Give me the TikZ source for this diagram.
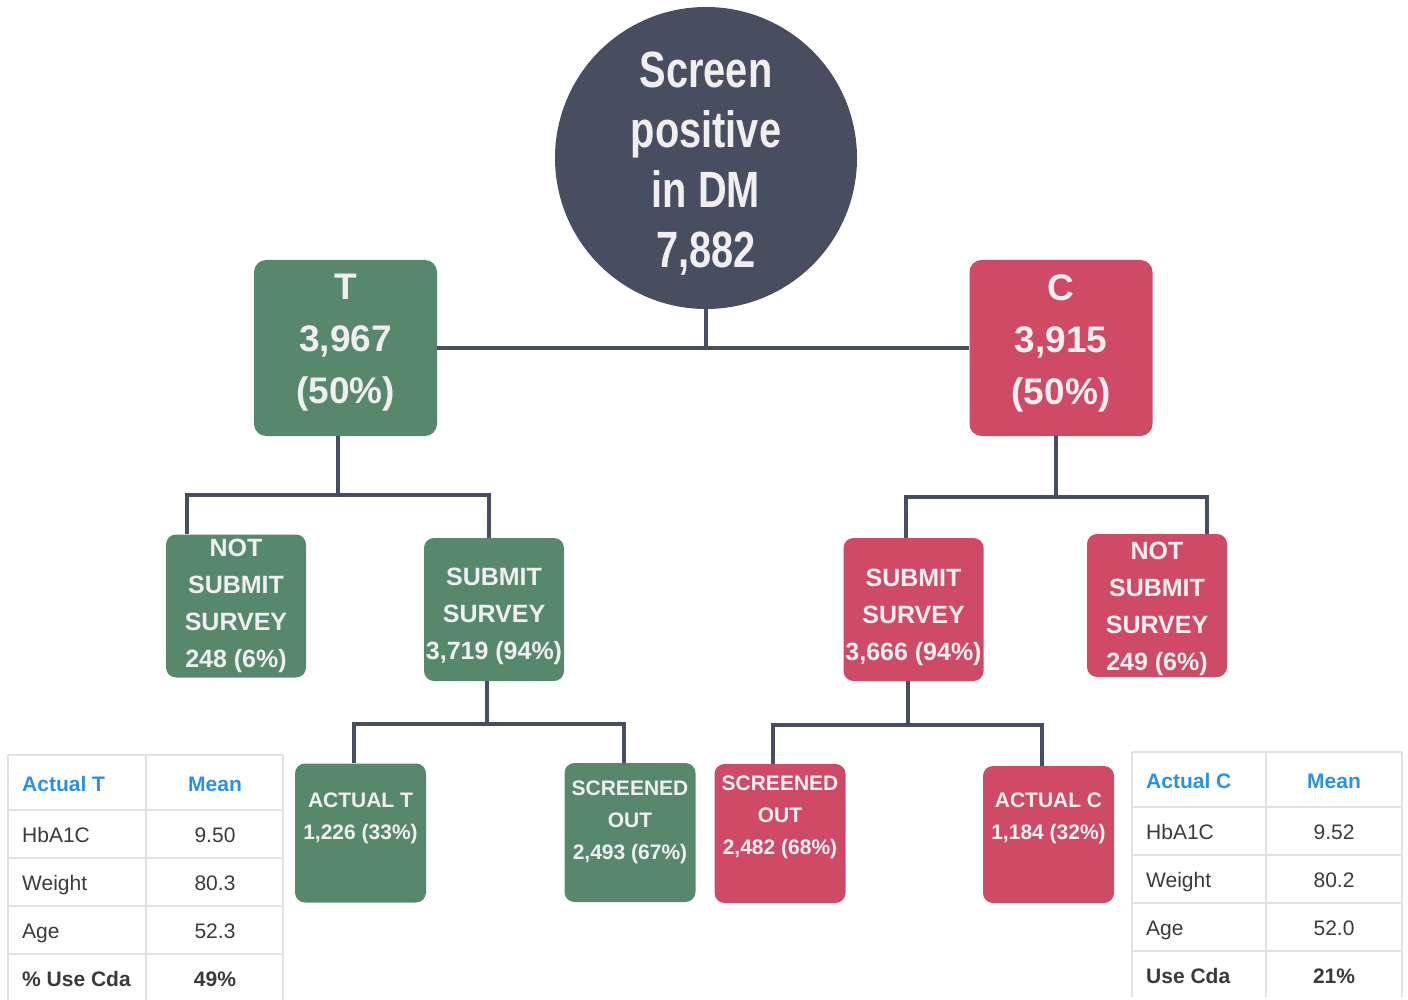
\documentclass[tikz,border=0pt]{standalone}
\usepackage{fontspec}
\setmainfont{Liberation Sans}
\newfontfamily\condfont[FakeStretch=0.78]{Liberation Sans}
\usepackage{tikz}
\usetikzlibrary{positioning}
\usepackage{xcolor}

\definecolor{navy}{HTML}{464E60}
\definecolor{tgreen}{HTML}{58886C}
\definecolor{cred}{HTML}{CF4A66}
\definecolor{hblue}{HTML}{2B90E8}
\definecolor{rulegray}{HTML}{E2E2E2}
\definecolor{ink}{HTML}{3A3A3A}
\definecolor{paper}{HTML}{EFEFEF}

\begin{document}
\begin{tikzpicture}[
        x=1pt, y=-1pt,
        link/.style={draw=navy, line width=4pt},
        root/.style={circle, fill=navy, minimum size=302pt, inner sep=0pt},
        roottext/.style={text=paper, align=center, font=\condfont\bfseries\fontsize{51}{60}\selectfont},
        arm/.style={rounded corners=12pt, minimum width=183pt, minimum height=176pt, inner sep=0pt},
        armtext/.style={text=paper, align=center, font=\bfseries\fontsize{37}{52}\selectfont},
        survey/.style={rounded corners=10pt, minimum width=140pt, minimum height=143pt, inner sep=0pt},
        surveytext/.style={text=paper, align=center, font=\bfseries\fontsize{25}{37}\selectfont},
        result/.style={rounded corners=10pt, minimum width=131pt, minimum height=139pt, inner sep=0pt},
        resulttext/.style={text=paper, align=center, font=\bfseries\fontsize{21}{32}\selectfont},
        cell/.style={text=ink, inner sep=0pt, text height=21pt, text depth=4pt,
            font=\fontsize{21}{24}\selectfont},
        head/.style={cell, text=hblue, font=\bfseries\fontsize{21}{24}\selectfont},
        boldcell/.style={cell, font=\bfseries\fontsize{21}{24}\selectfont},
        rule/.style={draw=rulegray, line width=1.5pt}
    ]
    \useasboundingbox (0,0) rectangle (1408,1000);

    % Root and arms
    \node[root, label={[roottext, yshift=-6pt]center:{Screen\\positive\\in DM\\7,882}}]
        (root) at (706,158) {};
    \node[arm, fill=tgreen, label={[armtext, yshift=5pt]center:{T\\3,967\\(50\%)}}]
        (T) at (345.5,348) {};
    \node[arm, fill=cred, label={[armtext, yshift=5pt]center:{C\\3,915\\(50\%)}}]
        (C) at (1061,348) {};

    % Survey boxes
    \node[survey, fill=tgreen, label={[surveytext]center:{NOT\\SUBMIT\\SURVEY\\248 (6\%)}}]
        (TN) at (236,606) {};
    \node[survey, fill=tgreen, label={[surveytext, yshift=-7pt]center:{SUBMIT\\SURVEY\\3,719 (94\%)}}]
        (TS) at (494,609.5) {};
    \node[survey, fill=cred, label={[surveytext, yshift=-8pt]center:{SUBMIT\\SURVEY\\3,666 (94\%)}}]
        (CS) at (913.5,609.5) {};
    \node[survey, fill=cred, label={[surveytext, yshift=-3pt]center:{NOT\\SUBMIT\\SURVEY\\249 (6\%)}}]
        (CN) at (1157,605.5) {};

    % Result boxes
    \node[result, fill=tgreen,
        label={[resulttext, yshift=15pt]center:{ACTUAL T\\1,226 (33\%)}}] (TA) at (360.5,833) {};
    \node[result, fill=tgreen,
        label={[resulttext, yshift=10pt]center:{SCREENED\\OUT\\2,493 (67\%)}}] (TO) at (630,832.5) {};
    \node[result, fill=cred,
        label={[resulttext, yshift=16pt]center:{SCREENED\\OUT\\2,482 (68\%)}}] (CO) at (780,833.5) {};
    \node[result, fill=cred, minimum height=137pt,
        label={[resulttext, yshift=16pt]center:{ACTUAL C\\1,184 (32\%)}}] (CA) at (1048.5,834.5) {};

    % Root to arms
    \draw[link] (T.east) -- (C.west);
    \draw[link] (root.south) -- (root.south |- T.east);

    % T branch
    \coordinate (Tj) at (338,495);
    \coordinate (TNj) at (187,495);
    \coordinate (TSj) at (489,495);
    \draw[link] (Tj |- T.south) -- (Tj);
    \draw[link] (TNj |- TN.north) -- (TNj) -- (TSj) -- (TSj |- TS.north);
    \coordinate (TSk) at (487,724);
    \coordinate (TAj) at (354,724);
    \coordinate (TOj) at (624,724);
    \draw[link] (TSk |- TS.south) -- (TSk);
    \draw[link] (TAj |- TA.north) -- (TAj) -- (TOj) -- (TOj |- TO.north);

    % C branch
    \coordinate (Cj) at (1056,497);
    \coordinate (CSj) at (906,497);
    \coordinate (CNj) at (1207,497);
    \draw[link] (Cj |- C.south) -- (Cj);
    \draw[link] (CSj |- CS.north) -- (CSj) -- (CNj) -- (CNj |- CN.north);
    \coordinate (CSk) at (908,725);
    \coordinate (COj) at (773,725);
    \coordinate (CAj) at (1042,725);
    \draw[link] (CSk |- CS.south) -- (CSk);
    \draw[link] (COj |- CO.north) -- (COj) -- (CAj) -- (CAj |- CA.north);

    % Left table
    \foreach \y in {755,810,858,906,954}
        \draw[rule] (8,\y) -- (283,\y);
    \foreach \x in {8,146,283}
        \draw[rule] (\x,755) -- (\x,1000);
    \node[head, anchor=west] (lt-h1) at (22,783) {Actual T};
    \node[head] (lt-h2) at (215,783) {Mean};
    \foreach \name/\val/\y [count=\i] in {HbA1C/9.50/834, Weight/80.3/882, Age/52.3/930} {
        \node[cell, anchor=west] (lt-\i-a) at (22,\y) {\name};
        \node[cell] (lt-\i-b) at (215,\y) {\val};
    }
    \node[boldcell, anchor=west] (lt-4-a) at (22,978) {\% Use Cda};
    \node[boldcell] (lt-4-b) at (215,978) {49\%};

    % Right table
    \foreach \y in {752,807,855,903,951}
        \draw[rule] (1132,\y) -- (1402,\y);
    \foreach \x in {1132,1266,1402}
        \draw[rule] (\x,752) -- (\x,997);
    \node[head, anchor=west] (rt-h1) at (1146,780) {Actual C};
    \node[head] (rt-h2) at (1334,780) {Mean};
    \foreach \name/\val/\y [count=\i] in {HbA1C/9.52/831, Weight/80.2/879, Age/52.0/927} {
        \node[cell, anchor=west] (rt-\i-a) at (1146,\y) {\name};
        \node[cell] (rt-\i-b) at (1334,\y) {\val};
    }
    \node[boldcell, anchor=west] (rt-4-a) at (1146,975) {Use Cda};
    \node[boldcell] (rt-4-b) at (1334,975) {21\%};

\end{tikzpicture}
\end{document}
